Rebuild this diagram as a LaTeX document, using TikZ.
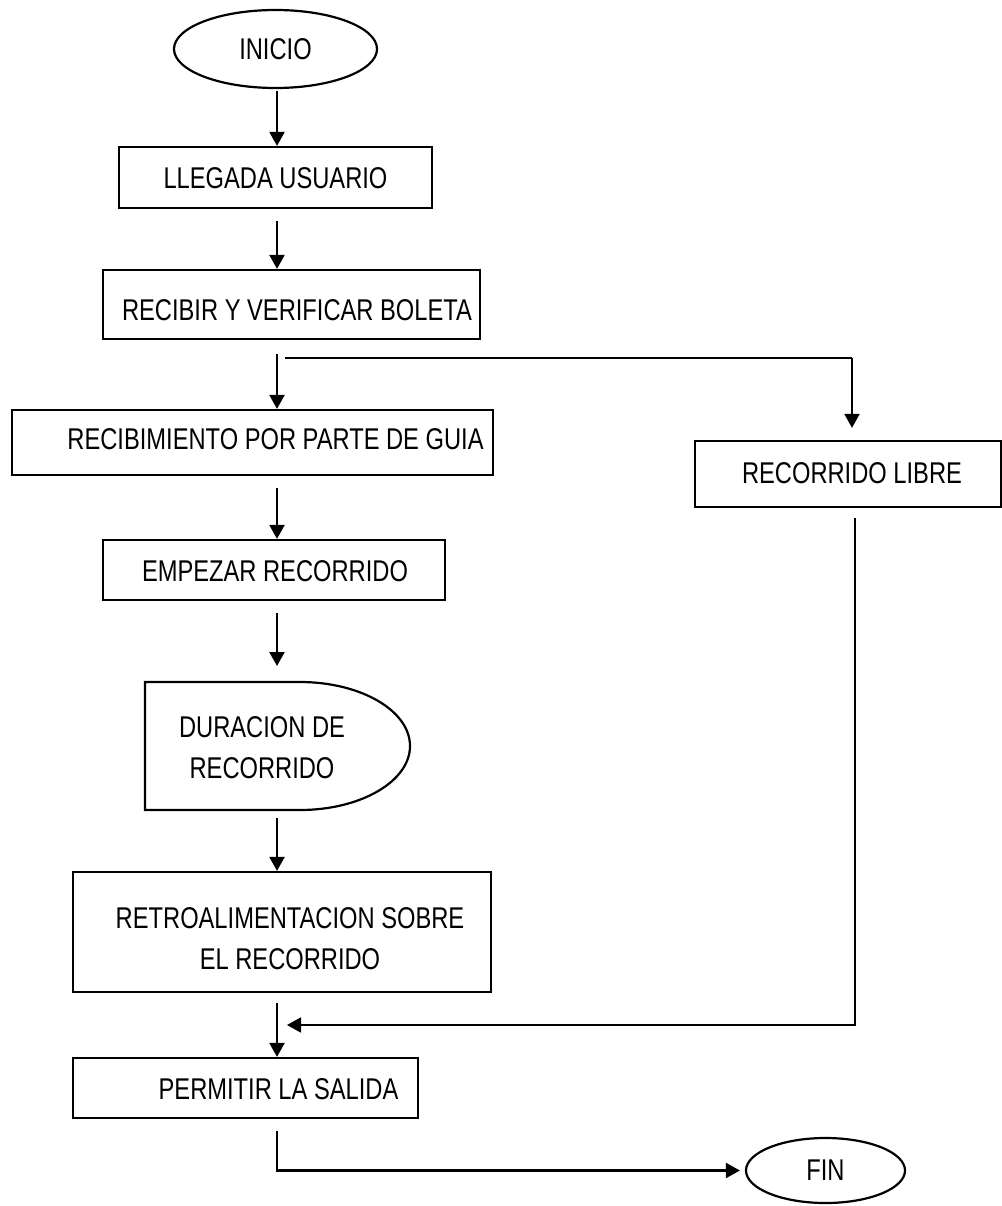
\documentclass[tikz,border=0pt]{standalone}
\usepackage{fontspec}
\setmainfont[FakeStretch=0.79]{Liberation Sans}
\usetikzlibrary{arrows.meta,shapes.geometric,calc}
\begin{document}
\begin{tikzpicture}[x=1pt,y=-1pt,
  lbl/.style={font=\fontsize{30}{41}\selectfont,inner sep=0pt,align=center},
  box/.style={draw,line width=2.2pt,rectangle,inner sep=0pt},
  term/.style={draw,line width=2.2pt,ellipse,inner sep=0pt,font=\fontsize{30}{41}\selectfont},
  arr/.style={line width=2.2pt,-{Triangle[width=15pt,length=14pt]}},
  ln/.style={line width=2.2pt}]
\useasboundingbox (0,0) rectangle (1001,1206);
\coordinate (sp) at (277,0);

% terminals
\node[term,minimum width=203pt,minimum height=78pt] (ini) at (275.5,49) {INICIO};
\node[term,minimum width=159pt,minimum height=65pt] (fin) at (825.5,1170.5) {FIN};

% process boxes
\node[box,minimum width=313pt,minimum height=61pt] (lleg) at (275.5,177.5) {};
\node[lbl] (llegt) at (275.5,178) {LLEGADA USUARIO};

\node[box,minimum width=377pt,minimum height=69pt] (reci) at (291.5,304.5) {};
\node[lbl] (recit) at (297,310) {RECIBIR Y VERIFICAR BOLETA};

\node[box,minimum width=481pt,minimum height=65pt] (recb) at (252.5,442.5) {};
\node[lbl] (recbt) at (275.5,439) {RECIBIMIENTO POR PARTE DE GUIA};

\node[box,minimum width=306pt,minimum height=66pt] (libre) at (848,474) {};
\node[lbl] (libret) at (852,473) {RECORRIDO LIBRE};

\node[box,minimum width=342pt,minimum height=60pt] (emp) at (274,570) {};
\node[lbl] (empt) at (275,571) {EMPEZAR RECORRIDO};

% delay shape
\draw[ln] (300,682) -- (145,682) -- (145,810) -- (300,810)
  arc[start angle=90,end angle=-90,x radius=110,y radius=64] -- cycle;
\coordinate (durtop) at (277,682);
\coordinate (durbot) at (277,810);
\node[lbl] (durt) at (262,748) {DURACION DE\\RECORRIDO};

\node[box,minimum width=418pt,minimum height=120pt] (retro) at (282,932) {};
\node[lbl] (retrot) at (290,939) {RETROALIMENTACION SOBRE\\EL RECORRIDO};

\node[box,minimum width=345pt,minimum height=60pt] (perm) at (245.5,1088) {};
\node[lbl] (permt) at (278.5,1089) {PERMITIR LA SALIDA};

% connectors
\draw[arr,shorten <=2pt] (ini.south -| sp) -- (lleg.north -| sp);
\draw[arr,shorten <=12pt] (lleg.south -| sp) -- (reci.north -| sp);
\draw[arr,shorten <=14pt] (reci.south -| sp) -- (recb.north -| sp);

\coordinate (br1) at (285,358);
\coordinate (br2) at (852,358);
\draw[line width=2.8pt] (br1) -- (br2);
\draw[line width=1.8pt,-{Triangle[width=15pt,length=14pt]},shorten >=12pt] (br2) -- (libre.north -| br2);

\draw[arr,shorten <=12pt] (recb.south -| sp) -- (emp.north -| sp);
\draw[arr,shorten <=12pt,shorten >=16pt] (emp.south -| sp) -- (durtop);
\draw[arr,shorten <=8pt] (durbot) -- (retro.north -| sp);
\draw[arr,shorten <=10pt] (retro.south -| sp) -- (perm.north -| sp);

\coordinate (rr) at (855,1025);
\coordinate (rl) at (287,1025);
\draw[line width=1.8pt,-{Triangle[width=15pt,length=14pt]},shorten <=10pt,line join=miter]
  (libre.south -| rr) -- (rr) -- (rl);

\draw[arr,shorten <=12pt,shorten >=5pt] (perm.south -| sp) -- (sp |- fin.west) -- (fin.west);
\end{tikzpicture}
\end{document}
